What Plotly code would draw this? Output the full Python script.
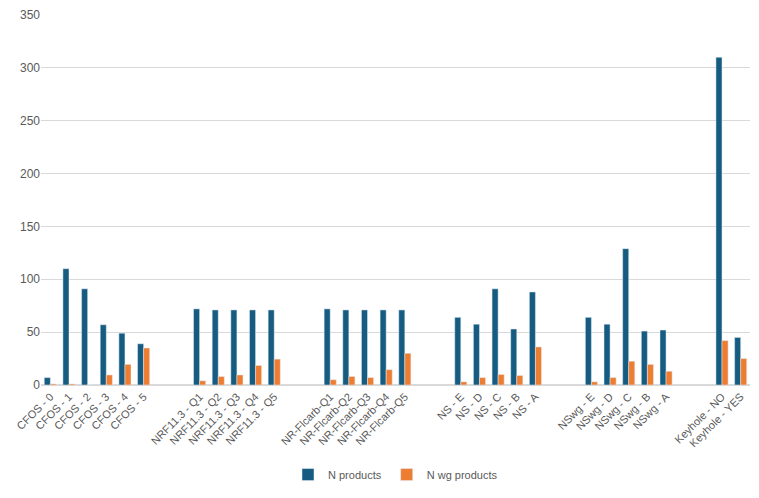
import plotly.graph_objects as go

categories = ["CFOS - 0", "CFOS - 1", "CFOS - 2", "CFOS - 3", "CFOS - 4", "CFOS - 5", " ", "  ",
              "NRF11.3 - Q1", "NRF11.3 - Q2", "NRF11.3 - Q3", "NRF11.3 - Q4", "NRF11.3 - Q5", "   ", "    ",
              "NR-Flcarb-Q1", "NR-Flcarb-Q2", "NR-Flcarb-Q3", "NR-Flcarb-Q4", "NR-Flcarb-Q5", "     ", "      ",
              "NS - E", "NS - D", "NS - C", "NS - B", "NS - A", "       ", "        ",
              "NSwg - E", "NSwg - D", "NSwg - C", "NSwg - B", "NSwg - A", "         ", "          ",
              "Keyhole - NO", "Keyhole - YES"]

n_products = [7, 110, 91, 57, 49, 39, None, None,
              72, 71, 71, 71, 71, None, None,
              72, 71, 71, 71, 71, None, None,
              64, 57.5, 91, 53, 88, None, None,
              64, 57.5, 129, 51, 52, None, None,
              310, 45]

n_wg_products = [1, 1, 0, 9.5, 19.5, 35, None, None,
                 4, 8, 9.5, 18.5, 24.5, None, None,
                 5, 8, 7, 14.5, 30, None, None,
                 3, 7, 10, 9, 36, None, None,
                 3, 7, 22.5, 19.5, 13, None, None,
                 42, 25]

font_family = "Liberation Sans Narrow, Arial Narrow, Liberation Sans, Arial"
grey = "#595959"

fig = go.Figure()
fig.add_trace(go.Bar(x=categories, y=n_products, name="N products", marker_color="#155C80"))
fig.add_trace(go.Bar(x=categories, y=n_wg_products, name="N wg products", marker_color="#ED7D31"))

fig.update_layout(
    width=759, height=498,
    margin=dict(l=41, r=9, t=15, b=111),
    paper_bgcolor="white", plot_bgcolor="white",
    barmode="group", bargap=0.35, bargroupgap=0,
    font=dict(family=font_family, color=grey, size=11),
    legend=dict(orientation="h", x=0.5, xanchor="center", y=-0.242, yanchor="middle",
                font=dict(size=11, color=grey), itemwidth=30, traceorder="normal"),
    xaxis=dict(type="category", tickangle=-45, tickfont=dict(size=11, color=grey),
               showgrid=False, showline=True, linecolor="#d9d9d9", linewidth=1, ticks=""),
    yaxis=dict(range=[0, 350], dtick=50, showgrid=True, gridcolor="#d9d9d9", gridwidth=1,
               zeroline=True, zerolinecolor="#d9d9d9", tickfont=dict(size=12, color=grey),
               ticks="", showline=False),
)

fig.write_html("out.html")
